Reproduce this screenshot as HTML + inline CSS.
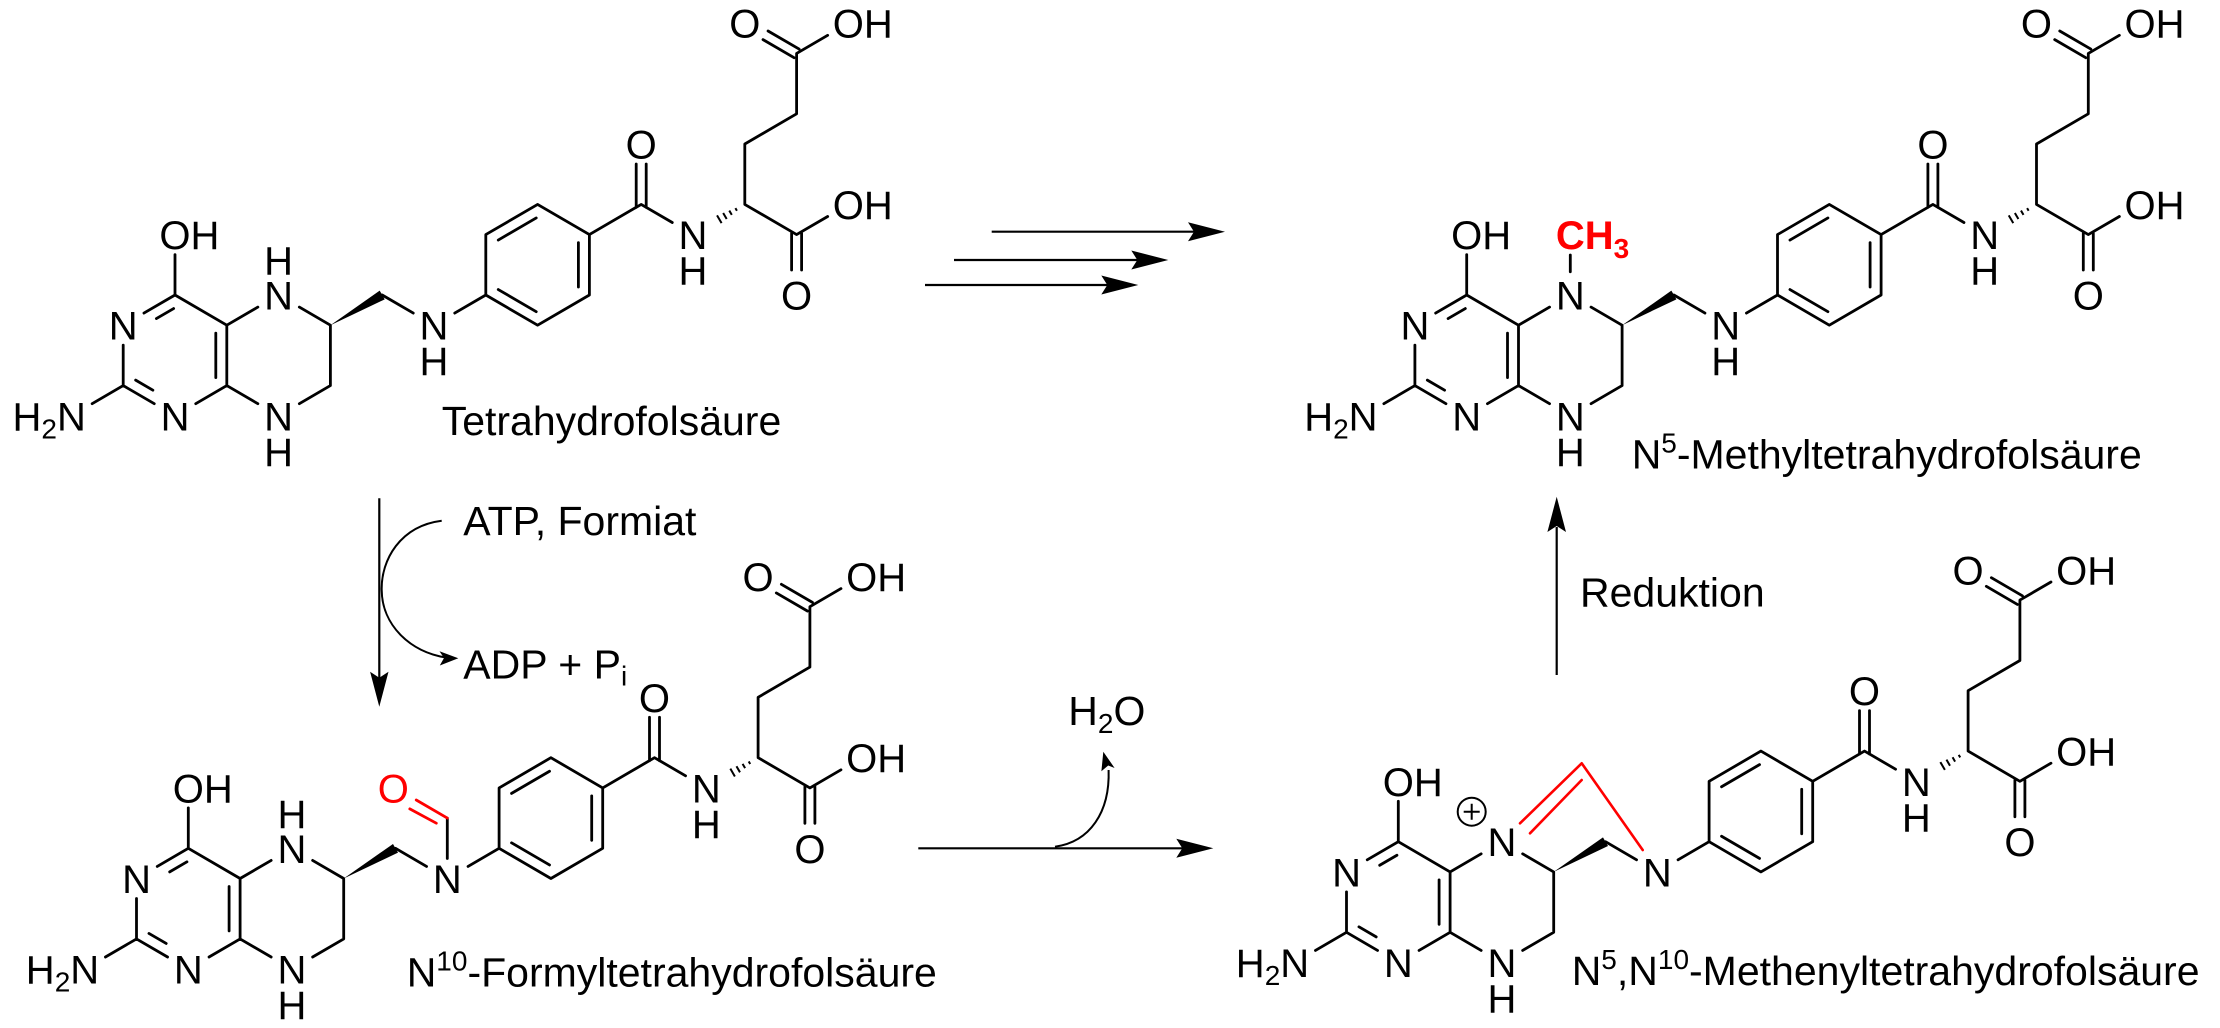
<!DOCTYPE html>
<html>
<head>
<meta charset="utf-8">
<style>
  html,body{margin:0;padding:0;background:#fff;}
  svg{display:block;}
  text{font-family:"Liberation Sans",Arial,sans-serif;font-size:40px;fill:#000;}
  .m{text-anchor:middle;}
  .e{text-anchor:end;}
  .cap{font-size:41px;}
  .red{fill:#ff0000;}
</style>
</head>
<body>
<svg width="2220" height="1028" viewBox="0 0 2220 1028" xmlns="http://www.w3.org/2000/svg">
<rect x="0" y="0" width="2220" height="1028" fill="#fff"/>
<defs>
  <g id="core">
    <path fill="none" stroke="#000" stroke-width="2.8" stroke-linecap="round" stroke-linejoin="round" d="
      M-31.06,-42.3 L0,-60.4 L51.8,-30.2 L51.8,30.2 L20.74,48.3
      M0,-60.4 L0,-100.8
      M-51.8,-10.2 L-51.8,30.2 L-20.74,48.3
      M-51.8,30.2 L-82.86,48.3
      M82.86,-48.3 L51.8,-30.2
      M82.86,48.3 L51.8,30.2
      M124.34,-48.3 L155.4,-30.2 L155.4,30.2 L124.34,48.3
      M207.2,-60.4 L238.26,-42.3
      M279.74,-42.3 L310.8,-60.4
      M310.8,-60.4 L310.8,-120.8 L362.6,-151 L414.4,-120.8 L414.4,-60.4 L362.6,-30.2 Z
      M414.4,-120.8 L466.2,-151 L497.26,-132.9
      M461.2,-148 L461.2,-191.4
      M471.2,-148 L471.2,-191.4
      M-1.37,-46.87 L-18.61,-36.83
      M-39.35,24.73 L-22.11,34.77
      M40.8,22.2 L40.8,-22.2
      M323.25,-115.33 L361.23,-137.47
      M403.4,-112.8 L403.4,-68.4
      M323.25,-65.87 L361.23,-43.73
      M652.66,-320.1 L621.6,-302 L621.6,-241.6 L569.8,-211.4 L569.8,-151 L621.6,-120.8 L652.66,-138.9
      M624.12,-306.32 L593.06,-324.42
      M619.08,-297.68 L588.02,-315.78
      M616.6,-122 L616.6,-85.4
      M626.6,-122 L626.6,-85.4
    "/>
    <polygon fill="#000" points="155.4,-30.2 209.72,-56.08 204.68,-64.72"/>
    <path fill="none" stroke="#000" stroke-width="2" d="
      M560.4,-147.26 L561.92,-144.66
      M554.28,-144.84 L556.8,-140.52
      M548.17,-142.43 L551.69,-136.39
      M542.04,-140.02 L546.58,-132.24
    "/>
  </g>
</defs>

<!-- ========== Molecule A: Tetrahydrofolsäure ========== -->
<g transform="translate(175,355.4)">
  <use href="#core"/>
  <text x="-15.6" y="-106.3">OH</text>
  <text class="m" x="-51.8" y="-15.7">N</text>
  <text class="m" x="0" y="74.9">N</text>
  <text class="e" x="-89.15" y="74.9">H<tspan font-size="28" dy="8">2</tspan><tspan dy="-8">N</tspan></text>
  <text class="m" x="103.6" y="-45.9">N</text>
  <text class="m" x="103.6" y="-80.9">H</text>
  <text class="m" x="103.6" y="74.9">N</text>
  <text class="m" x="103.6" y="110.4">H</text>
  <text class="m" x="259" y="-15.7">N</text>
  <text class="m" x="259" y="19.8">H</text>
  <text class="m" x="466.2" y="-196.9">O</text>
  <text class="m" x="518" y="-106.3">N</text>
  <text class="m" x="518" y="-70.8">H</text>
  <text class="m" x="569.8" y="-317.7">O</text>
  <text x="657.8" y="-317.7">OH</text>
  <text x="657.8" y="-136.5">OH</text>
  <text class="m" x="621.6" y="-45.9">O</text>
</g>
<text class="cap" x="441.7" y="435">Tetrahydrofolsäure</text>

<!-- ========== Molecule B: N10-Formyl ========== -->
<g transform="translate(188.3,908.7)">
  <use href="#core"/>
  <path fill="none" stroke="#000" stroke-width="2.8" stroke-linecap="round" d="M259,-50.2 L259,-90.6"/>
  <path fill="none" stroke="#ff0000" stroke-width="2.8" stroke-linecap="round" d="M259,-90.6 L227.94,-108.7 M248,-85.5 L221.5,-99.8"/>
  <text class="m red" x="205" y="-106.3">O</text>
  <text x="-15.6" y="-106.3">OH</text>
  <text class="m" x="-51.8" y="-15.7">N</text>
  <text class="m" x="0" y="74.9">N</text>
  <text class="e" x="-89.15" y="74.9">H<tspan font-size="28" dy="8">2</tspan><tspan dy="-8">N</tspan></text>
  <text class="m" x="103.6" y="-45.9">N</text>
  <text class="m" x="103.6" y="-80.9">H</text>
  <text class="m" x="103.6" y="74.9">N</text>
  <text class="m" x="103.6" y="110.4">H</text>
  <text class="m" x="259" y="-15.7">N</text>
  <text class="m" x="466.2" y="-196.9">O</text>
  <text class="m" x="518" y="-106.3">N</text>
  <text class="m" x="518" y="-70.8">H</text>
  <text class="m" x="569.8" y="-317.7">O</text>
  <text x="657.8" y="-317.7">OH</text>
  <text x="657.8" y="-136.5">OH</text>
  <text class="m" x="621.6" y="-45.9">O</text>
</g>
<text class="cap" x="406.7" y="986.7">N<tspan font-size="28" dy="-16">10</tspan><tspan dy="16">-Formyltetrahydrofolsäure</tspan></text>

<!-- ========== Molecule C: N5-Methyl ========== -->
<g transform="translate(1466.7,355.4)">
  <use href="#core"/>
  <path fill="none" stroke="#000" stroke-width="2.8" stroke-linecap="round" d="M103.6,-83.7 L103.6,-100.4"/>
  <text x="89.2" y="-106.3" fill="#ff0000" style="fill:#ff0000;font-weight:bold">CH<tspan font-size="28" dy="9">3</tspan></text>
  <text x="-15.6" y="-106.3">OH</text>
  <text class="m" x="-51.8" y="-15.7">N</text>
  <text class="m" x="0" y="74.9">N</text>
  <text class="e" x="-89.15" y="74.9">H<tspan font-size="28" dy="8">2</tspan><tspan dy="-8">N</tspan></text>
  <text class="m" x="103.6" y="-45.9">N</text>
  <text class="m" x="103.6" y="74.9">N</text>
  <text class="m" x="103.6" y="110.4">H</text>
  <text class="m" x="259" y="-15.7">N</text>
  <text class="m" x="259" y="19.8">H</text>
  <text class="m" x="466.2" y="-196.9">O</text>
  <text class="m" x="518" y="-106.3">N</text>
  <text class="m" x="518" y="-70.8">H</text>
  <text class="m" x="569.8" y="-317.7">O</text>
  <text x="657.8" y="-317.7">OH</text>
  <text x="657.8" y="-136.5">OH</text>
  <text class="m" x="621.6" y="-45.9">O</text>
</g>
<text class="cap" x="1631.7" y="468.3">N<tspan font-size="28" dy="-16">5</tspan><tspan dy="16">-Methyltetrahydrofolsäure</tspan></text>

<!-- ========== Molecule D: N5,N10-Methenyl ========== -->
<g transform="translate(1398.3,902.1)">
  <use href="#core"/>
  <path fill="none" stroke="#ff0000" stroke-width="2.6" stroke-linecap="round" stroke-linejoin="round" d="M121.7,-78.8 L183.4,-138.8 L244.4,-52.1 M131.7,-68.8 L183.4,-122.1"/>
  <circle cx="73.4" cy="-90.4" r="14" fill="none" stroke="#000" stroke-width="2"/>
  <path fill="none" stroke="#000" stroke-width="2" d="M65.4,-90.4 L81.4,-90.4 M73.4,-98.4 L73.4,-82.4"/>
  <text x="-15.6" y="-106.3">OH</text>
  <text class="m" x="-51.8" y="-15.7">N</text>
  <text class="m" x="0" y="74.9">N</text>
  <text class="e" x="-89.15" y="74.9">H<tspan font-size="28" dy="8">2</tspan><tspan dy="-8">N</tspan></text>
  <text class="m" x="103.6" y="-45.9">N</text>
  <text class="m" x="103.6" y="74.9">N</text>
  <text class="m" x="103.6" y="110.4">H</text>
  <text class="m" x="259" y="-15.7">N</text>
  <text class="m" x="466.2" y="-196.9">O</text>
  <text class="m" x="518" y="-106.3">N</text>
  <text class="m" x="518" y="-70.8">H</text>
  <text class="m" x="569.8" y="-317.7">O</text>
  <text x="657.8" y="-317.7">OH</text>
  <text x="657.8" y="-136.5">OH</text>
  <text class="m" x="621.6" y="-45.9">O</text>
</g>
<text class="cap" x="1571.7" y="985">N<tspan font-size="28" dy="-16">5</tspan><tspan dy="16">,N</tspan><tspan font-size="28" dy="-16">10</tspan><tspan dy="16">-Methenyltetrahydrofolsäure</tspan></text>

<!-- ========== Arrows ========== -->
<g stroke="#000" stroke-width="2.2" fill="none">
  <path d="M991.7,231.7 L1196,231.7"/>
  <path d="M954,260 L1139,260"/>
  <path d="M925,285 L1109,285"/>
  <path d="M379.3,498.3 L379.3,679"/>
  <path d="M918.3,848.3 L1184,848.3"/>
  <path d="M1556.7,675 L1556.7,527"/>
</g>
<g stroke="#000" stroke-width="2" fill="none">
  <path d="M441.7,520.7 C400,526 381,560 381.7,590 C382,625 410,652 446,657.5"/>
  <path d="M1055,846.7 C1090,842 1110,812 1108.6,770"/>
</g>
<g fill="#000" stroke="none">
  <polygon points="1225,231.7 1188,222.2 1194,231.7 1188,241.2"/>
  <polygon points="1168.3,260 1131.3,250.5 1137.3,260 1131.3,269.5"/>
  <polygon points="1138.3,285 1101.3,275.5 1107.3,285 1101.3,294.5"/>
  <polygon points="379.3,706.7 370.1,671.7 379.3,677.7 388.5,671.7"/>
  <polygon points="1213.3,848.3 1176.3,838.8 1182.3,848.3 1176.3,857.8"/>
  <polygon points="1556.7,496.7 1547.4,532 1556.7,526 1566,532"/>
  <polygon points="458.3,658.3 439.5,651.2 444,658 439.8,665.5"/>
  <polygon points="1103.3,751.7 1114.6,768 1108.2,765.5 1101.4,771.2"/>
</g>

<text class="cap" x="463.3" y="535">ATP, Formiat</text>
<text class="cap" x="463.3" y="678.3">ADP + P<tspan font-size="28" dy="7">i</tspan></text>
<text class="cap" x="1068.3" y="725">H<tspan font-size="28" dy="8">2</tspan><tspan dy="-8">O</tspan></text>
<text class="cap" x="1580" y="606.7">Reduktion</text>
</svg>
</body>
</html>
